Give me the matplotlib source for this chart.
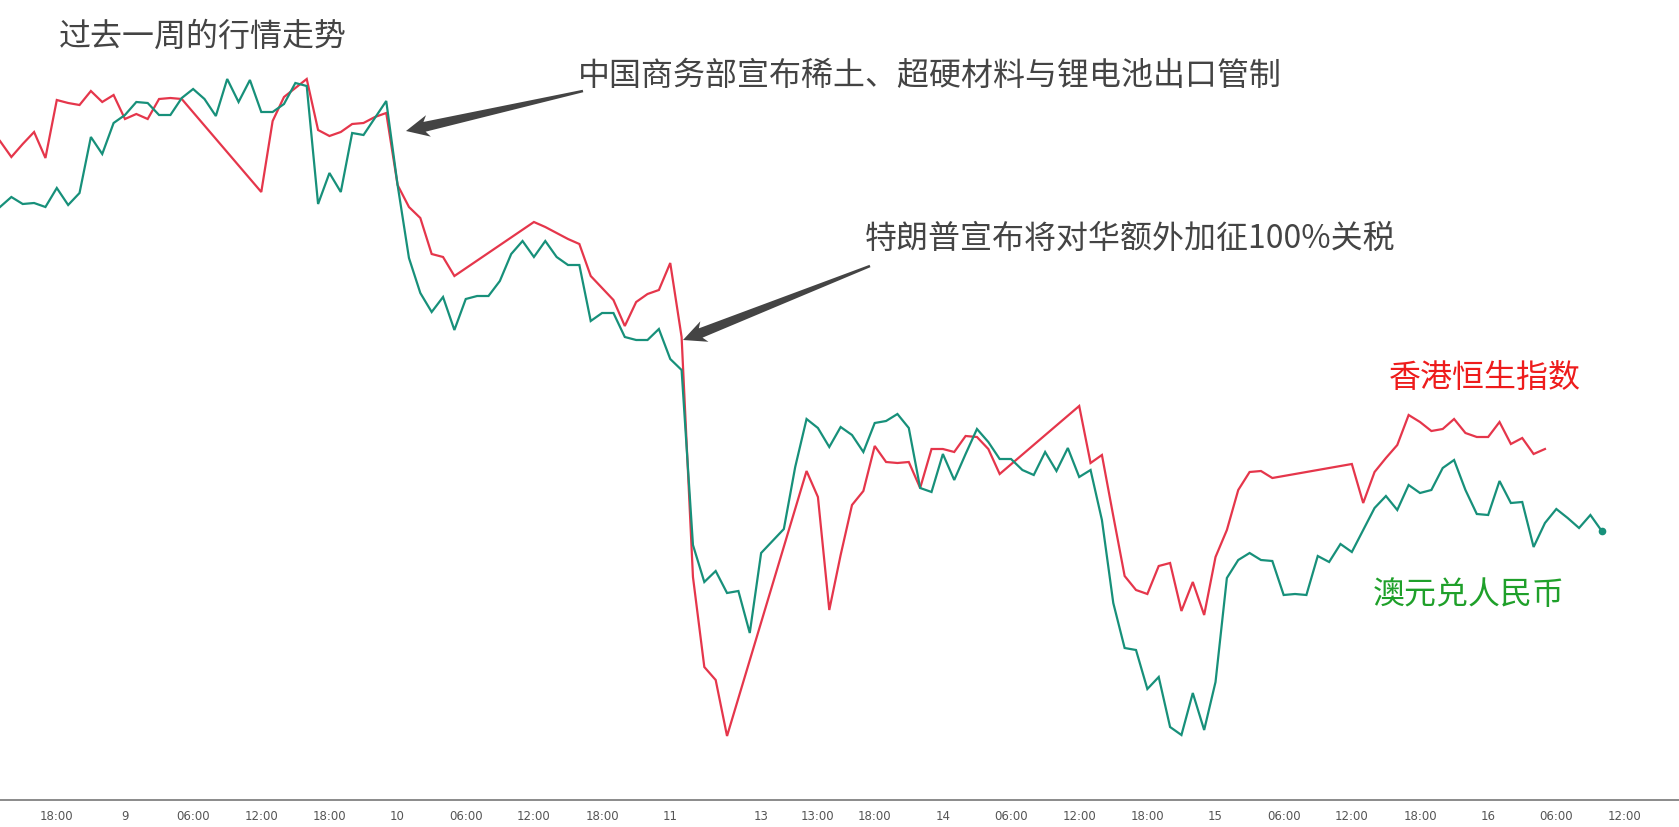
import numpy as np
import matplotlib
matplotlib.use('Agg')
import matplotlib.pyplot as plt
from matplotlib.patches import Polygon
from matplotlib.transforms import IdentityTransform

plt.rcParams['font.family'] = ['Noto Sans CJK SC', 'DejaVu Sans']

# Hourly bars, one chart level per bar (no y axis on the source, so the
# values are the relative height on the shared chart scale)
AUD_CNY = [
    593, 603, 596, 597, 593, 612, 595, 607, 663, 646, 677, 685, 698, 697, 685, 685,
    702, 711, 701, 684, 721, 698, 720, 688, 688, 696, 717, 714, 596, 627, 608, 667,
    665, 682, 699, 615, 542, 507, 488, 503, 470, 501, 504, 504, 519, 546, 559, 543,
    559, 543, 535, 535, 479, 487, 487, 463, 460, 460, 471, 441, 430, 255, 218, 229,
    207, 209, 167, 247, 259, 271, 333, 381, 372, 353, 373, 365, 348, 377, 379, 386,
    372, 312, 308, 346, 320, 346, 371, 358, 341, 341, 330, 325, 348, 329, 352, 323,
    330, 280, 197, 152, 150, 111, 123, 73, 65, 107, 70, 118, 222, 240, 247, 240,
    239, 205, 206, 205, 244, 238, 256, 248, 270, 292, 304, 290, 315, 307, 310, 332,
    340, 310, 286, 285, 319, 297, 298, 253, 277, 291, 282, 272, 285, 269,
]

N = None  # market closed, line is joined across the gap
HSI = [
    659, 643, 656, 668, 642, 700, 697, 695, 709, 698, 705, 681, 686, 681, 701, 702,
    701, N, N, N, N, N, N, 608, 679, 703, 712, 721, 670, 664, 668, 676,
    677, 683, 687, 615, 593, 582, 546, 543, 524, N, N, N, N, N, N, 578,
    573, 567, 561, 556, 524, 512, 500, 474, 498, 506, 510, 537, 463, 223, 133, 120,
    64, N, N, N, N, N, N, 329, 303, 190, 245, 295, 309, 354, 338, 337,
    338, 312, 351, 351, 348, 364, 363, 351, 326, N, N, N, N, N, N, 394,
    337, 345, 284, 224, 210, 206, 234, 237, 189, 218, 185, 243, 270, 310, 328, 329,
    322, N, N, N, N, N, N, 336, 297, 328, 342, 355, 385, 378, 369, 371,
    381, 367, 363, 363, 378, 356, 362, 346, 351,
]

TICK_BARS = [5, 11, 17, 23, 29, 35, 41, 47, 53, 59, 67, 72, 77, 83, 89, 95,
             101, 107, 113, 119, 125, 131, 137, 143]
TICK_LABELS = ['18:00', '9', '06:00', '12:00', '18:00', '10', '06:00', '12:00',
               '18:00', '11', '13', '13:00', '18:00', '14', '06:00', '12:00',
               '18:00', '15', '06:00', '12:00', '18:00', '16', '06:00', '12:00']

RED = '#e5364b'
TEAL = '#17907a'
W, H = 1679, 827


def px(xp, yp):
    # image pixel -> data coords (11.36 px per bar, baseline at 800 px)
    return xp / 11.36, 800 - yp


def tapered_arrow(fig, tail, tip, tail_w=2.5, neck_w=10, head_w=22, head_len=19,
                  color='#444444'):
    # arrow in image pixels: shaft widens from the tail, then a swept head
    t = np.array([tail[0], H - tail[1]], float)
    p = np.array([tip[0], H - tip[1]], float)
    u = (p - t) / np.linalg.norm(p - t)
    n = np.array([-u[1], u[0]])
    neck = p - u * head_len
    barb = p - u * (head_len + 4)
    pts = [t + n * tail_w / 2, neck + n * neck_w / 2, barb + n * head_w / 2, p,
           barb - n * head_w / 2, neck - n * neck_w / 2, t - n * tail_w / 2]
    fig.patches.append(Polygon(pts, closed=True, color=color, lw=0,
                               transform=IdentityTransform(), figure=fig))


fig = plt.figure(figsize=(16.79, 8.27), dpi=100)
ax = fig.add_axes([0, 27 / H, 1, 800 / H])

aud = np.array(AUD_CNY, dtype=float)
hsi = np.array([np.nan if v is None else v for v in HSI], dtype=float)
x_aud = np.arange(len(aud))
x_hsi = np.arange(len(hsi))
ok = ~np.isnan(hsi)

ax.plot(x_hsi[ok], hsi[ok], color=RED, lw=1.6, solid_joinstyle='miter')
ax.plot(x_aud, aud, color=TEAL, lw=1.6, solid_joinstyle='miter')
ax.plot(x_aud[-1], aud[-1], 'o', color=TEAL, ms=4.5)

ax.set_xlim(0, W / 11.36)
ax.set_ylim(0, 800)

for s in ['top', 'right', 'left']:
    ax.spines[s].set_visible(False)
ax.spines['bottom'].set_color('#777777')
ax.spines['bottom'].set_linewidth(1.2)
ax.set_yticks([])
ax.set_xticks(TICK_BARS)
ax.set_xticklabels(TICK_LABELS, fontsize=8.5, color='#555555',
                   family=['Liberation Sans Narrow', 'DejaVu Sans'])
ax.tick_params(axis='x', length=0, pad=7)

ax.text(*px(59, 37), '过去一周的行情走势', fontsize=23, color='#444444',
        ha='left', va='center')
ax.text(*px(578, 76), '中国商务部宣布稀土、超硬材料与锂电池出口管制', fontsize=23,
        color='#444444', ha='left', va='center')
ax.text(*px(865, 239), '特朗普宣布将对华额外加征100%关税', fontsize=23,
        color='#444444', ha='left', va='center')
ax.text(*px(1389, 378), '香港恒生指数', fontsize=23, color='#ee1c1c',
        ha='left', va='center')
ax.text(*px(1373, 595), '澳元兑人民币', fontsize=23, color='#1fa02a',
        ha='left', va='center')

tapered_arrow(fig, (583, 91), (406, 131))
tapered_arrow(fig, (870, 266), (683, 340))

fig.savefig('out.png', dpi=100)
